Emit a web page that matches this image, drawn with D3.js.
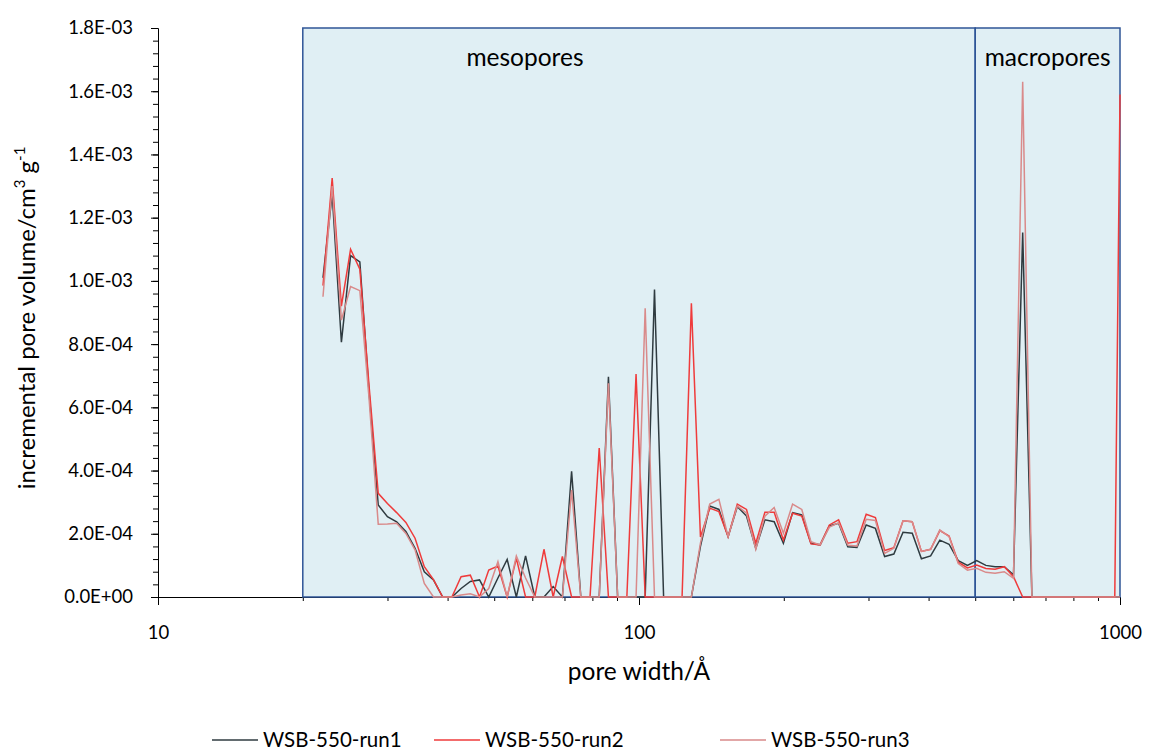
<!DOCTYPE html>
<html>
<head>
<meta charset="utf-8">
<script src="https://cdn.jsdelivr.net/npm/d3@7"></script>
<style>
  body { margin: 0; background: #fff; }
  svg { display: block; font-family: Lato, "Liberation Sans", sans-serif; }
</style>
</head>
<body>
<div id="chart"></div>
<script>
// pore width in Angstrom (log spaced DFT bins)
const poreWidth = [22.03, 23.02, 24.06, 25.14, 26.28, 27.46, 28.70, 29.99, 31.34, 32.76,
    34.23, 35.78, 37.39, 39.07, 40.83, 42.67, 44.60, 46.61, 48.71, 50.90,
    53.20, 55.59, 58.10, 60.72, 63.45, 66.31, 69.30, 72.42, 75.69, 79.10,
    82.66, 86.39, 90.28, 94.35, 98.60, 103.0, 107.7, 112.5, 117.6, 122.9,
    128.5, 134.2, 140.3, 146.6, 153.2, 160.1, 167.3, 174.9, 182.7, 191.0,
    199.6, 208.6, 218.0, 227.8, 238.0, 248.8, 260.0, 271.7, 283.9, 296.7,
    310.1, 324.1, 338.7, 353.9, 369.9, 386.5, 403.9, 422.1, 441.2, 461.0,
    481.8, 503.5, 526.2, 549.9, 574.7, 600.6, 627.6, 655.9, 685.5, 716.4,
    748.7, 782.4, 817.6, 854.5, 893.0, 933.2, 975.3, 1000];

// incremental pore volume, in units of 1E-4 cm3/g
const UNIT = 1e-4;
const run1 = [10.1, 12.75, 8.06, 10.8, 10.6, 6.5, 2.91, 2.54, 2.38, 2.07,
    1.54, 0.80, 0.54, 0, 0, 0.27, 0.49, 0.54, 0, 0.6,
    1.19, 0, 1.3, 0, 0, 0.33, 0, 3.98, 0, 0,
    0, 6.97, 0, 0, 0, 0, 9.73, 0, 0, 0,
    0, 1.6, 2.88, 2.77, 1.91, 2.86, 2.56, 1.54, 2.44, 2.38,
    1.70, 2.67, 2.60, 1.70, 1.65, 2.25, 2.33, 1.59, 1.57, 2.28,
    2.17, 1.28, 1.36, 2.05, 2.02, 1.21, 1.30, 1.80, 1.67, 1.15,
    1.0, 1.15, 1.0, 0.96, 0.96, 0.70, 11.53, 0, 0, 0,
    0, 0, 0, 0, 0, 0, 0, 0];
const run2 = [9.85, 13.25, 9.2, 11.0, 10.37, 6.7, 3.28, 2.96, 2.67, 2.36,
    1.86, 0.96, 0.55, 0, 0, 0.64, 0.69, 0, 0.85, 0.98,
    0, 1.22, 0, 0, 1.51, 0, 1.28, 0, 0, 0,
    4.71, 0, 0, 0, 7.05, 0, 0, 0, 0, 0,
    9.29, 1.9, 2.81, 2.70, 1.91, 2.94, 2.77, 1.70, 2.68, 2.68,
    1.80, 2.65, 2.56, 1.68, 1.65, 2.28, 2.44, 1.70, 1.75, 2.62,
    2.51, 1.47, 1.56, 2.41, 2.38, 1.44, 1.51, 2.10, 1.93, 1.10,
    0.92, 1.01, 0.90, 0.88, 0.96, 0.64, 0, 0, 0, 0,
    0, 0, 0, 0, 0, 0, 0, 15.9];
const run3 = [9.5, 13.0, 8.76, 9.82, 9.69, 6.3, 2.3, 2.31, 2.33, 2.01,
    1.49, 0.43, 0, 0, 0, 0.06, 0.1, 0, 0.27, 1.12,
    0, 1.3, 0.6, 0, 0, 0, 0, 3.38, 0, 0,
    0, 6.76, 0, 0, 0, 9.13, 0, 0, 0, 0,
    0, 1.7, 2.94, 3.09, 1.91, 2.88, 2.65, 1.51, 2.56, 2.83,
    2.02, 2.94, 2.77, 1.75, 1.65, 2.21, 2.35, 1.64, 1.61, 2.46,
    2.42, 1.38, 1.54, 2.41, 2.38, 1.44, 1.51, 2.12, 1.91, 1.06,
    0.85, 0.91, 0.78, 0.75, 0.80, 0.59, 16.3, 0, 0, 0,
    0, 0, 0, 0, 0, 0, 0, 0];

const seriesNames = ["WSB-550-run1", "WSB-550-run2", "WSB-550-run3"];
const seriesColors = ["#2f3b40", "#ef3b3b", "#d98a8a"];
const yTicks = [0, 2e-4, 4e-4, 6e-4, 8e-4, 1e-3, 1.2e-3, 1.4e-3, 1.6e-3, 1.8e-3];
const xTicks = [10, 100, 1000];
const regions = [{label: "mesopores", from: 20, to: 500}, {label: "macropores", from: 500, to: 1000}];

const width = 1150, height = 753;
const margin = {top: 28, right: 30, bottom: 156, left: 158};

const svg = d3.select("#chart").append("svg")
    .attr("width", width)
    .attr("height", height);

const x = d3.scaleLog()
    .domain([10, 1000])
    .range([margin.left, width - margin.right]);

const y = d3.scaleLinear()
    .domain([0, 1.8e-3])
    .range([height - margin.bottom, margin.top]);

// excel style scientific label, e.g. 1.8E-03
function sci(v) {
    if (v === 0) return "0.0E+00";
    const [m, e] = v.toExponential(1).split("e");
    const n = +e;
    return m + "E" + (n < 0 ? "-" : "+") + String(Math.abs(n)).padStart(2, "0");
}

// shaded pore regions
svg.append("rect")
    .attr("x", x(20))
    .attr("y", y(1.8e-3))
    .attr("width", x(1000) - x(20))
    .attr("height", y(0) - y(1.8e-3))
    .attr("fill", "#e0eff4");

// x axis
const minorX = d3.range(2, 10).map(d => d * 10).concat(d3.range(2, 10).map(d => d * 100));
svg.append("g")
    .attr("transform", `translate(0,${y(0)})`)
    .call(d3.axisBottom(x).tickValues(minorX).tickSize(4).tickFormat(""))
    .call(g => g.select(".domain").remove());
svg.append("g")
    .attr("transform", `translate(0,${y(0)})`)
    .call(d3.axisBottom(x).tickValues(xTicks).tickSize(8).tickPadding(21).tickFormat(d3.format("d")))
    .call(g => g.select(".domain").attr("stroke", "#000"))
    .call(g => g.selectAll("text").attr("font-size", 18.5).attr("fill", "#000").attr("font-family", "Lato"));

// y axis
svg.append("g")
    .attr("transform", `translate(${margin.left},0)`)
    .call(d3.axisLeft(y).tickValues(d3.range(0, 46).map(i => i * 4e-5)).tickSize(5).tickFormat(""))
    .call(g => g.select(".domain").remove());
svg.append("g")
    .attr("transform", `translate(${margin.left},0)`)
    .call(d3.axisLeft(y).tickValues(yTicks).tickSize(7).tickPadding(18).tickFormat(sci))
    .call(g => g.select(".domain").attr("stroke", "#000"))
    .call(g => g.selectAll("text").attr("font-size", 18.5).attr("fill", "#000").attr("font-family", "Lato"));

// region borders
svg.append("g").selectAll("rect")
    .data(regions)
    .join("rect")
    .attr("x", d => x(d.from))
    .attr("y", y(1.8e-3))
    .attr("width", d => x(d.to) - x(d.from))
    .attr("height", y(0) - y(1.8e-3))
    .attr("fill", "none")
    .attr("stroke", "#2f5597")
    .attr("stroke-width", 1.5);

svg.append("g").selectAll("text")
    .data(regions)
    .join("text")
    .attr("x", d => d.label === "mesopores" ? 525 : (x(d.from) + x(d.to)) / 2)
    .attr("y", 66)
    .attr("text-anchor", "middle")
    .attr("font-size", 24.5)
    .text(d => d.label);

// series
const series = [run1, run2, run3];
const line = d3.line()
    .x((d, i) => x(poreWidth[i]))
    .y(d => y(d * UNIT));

svg.append("g").selectAll("path")
    .data(series)
    .join("path")
    .attr("d", line)
    .attr("fill", "none")
    .attr("stroke", (d, i) => seriesColors[i])
    .attr("stroke-width", 1.5)
    .attr("stroke-linejoin", "miter");

// axis titles
svg.append("text")
    .attr("x", x(100))
    .attr("y", 680)
    .attr("text-anchor", "middle")
    .attr("font-size", 24.5)
    .text("pore width/Å");

const yt = svg.append("text")
    .attr("transform", `translate(35,318) rotate(-90)`)
    .attr("text-anchor", "middle")
    .attr("font-size", 24);
yt.append("tspan").text("incremental pore volume/cm");
yt.append("tspan").attr("font-size", 15).attr("dy", -10).text("3");
yt.append("tspan").attr("dy", 10).text(" g");
yt.append("tspan").attr("font-size", 15).attr("dy", -10).text("-1");

// legend
const legendX = [212, 434, 720];
const legend = svg.append("g").selectAll("g")
    .data(seriesNames)
    .join("g")
    .attr("transform", (d, i) => `translate(${legendX[i]},740)`);
legend.append("line")
    .attr("x2", 46)
    .attr("stroke", (d, i) => seriesColors[i])
    .attr("stroke-width", 1.5);
legend.append("text")
    .attr("x", 51)
    .attr("y", 7)
    .attr("font-size", 20.5)
    .text(d => d);
</script>
</body>
</html>
